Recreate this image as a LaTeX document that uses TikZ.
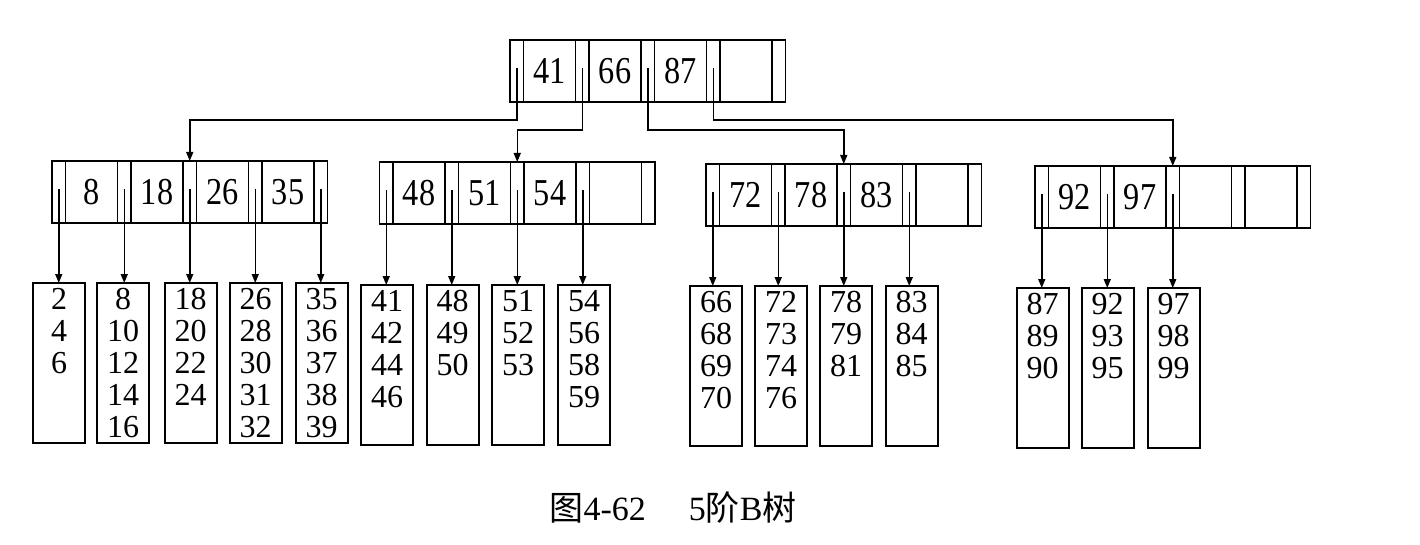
\documentclass[tikz,border=0pt]{standalone}
\usepackage{fontspec}
\setmainfont{Liberation Serif}
\newfontfamily\keyfont[FakeStretch=0.85]{Liberation Serif}
\newfontfamily\cjk{Noto Sans CJK SC}
\usetikzlibrary{arrows.meta}
\tikzset{
 pcell/.style={draw, line width=1.6pt, minimum width=13.5pt, minimum height=62pt, inner sep=0pt, outer sep=0pt, anchor=north west},
 kcell/.style={pcell, minimum width=52pt, font=\keyfont\fontsize{38}{38}\selectfont},
 leafbox/.style={draw, line width=2pt, minimum width=52pt, minimum height=160pt, inner sep=0pt, outer sep=0pt, anchor=north},
 leaftext/.style={anchor=north, align=center, inner sep=0pt, yshift=-5pt, font=\fontsize{32}{32}\selectfont},
 conn/.style={line width=1.5pt, -{Triangle[length=9pt,width=7pt]}},
}
\newcommand\BNode[7]{%
 \node[pcell] (#1-p0) at (#2,-#3) {};
 \node[kcell] (#1-k1) at (#2+13.5,-#3) {#4};
 \node[pcell] (#1-p1) at (#2+65.5,-#3) {};
 \node[kcell] (#1-k2) at (#2+79,-#3) {#5};
 \node[pcell] (#1-p2) at (#2+131,-#3) {};
 \node[kcell] (#1-k3) at (#2+144.5,-#3) {#6};
 \node[pcell] (#1-p3) at (#2+196.5,-#3) {};
 \node[kcell] (#1-k4) at (#2+210,-#3) {#7};
 \node[pcell] (#1-p4) at (#2+262,-#3) {};
 \coordinate (#1-m0) at ([yshift=3pt]#1-p0.center);
 \coordinate (#1-m1) at ([yshift=3pt]#1-p1.center);
 \coordinate (#1-m2) at ([yshift=3pt]#1-p2.center);
 \coordinate (#1-m3) at ([yshift=3pt]#1-p3.center);
 \coordinate (#1-m4) at ([yshift=3pt]#1-p4.center);
}
\newcommand\Leaf[4]{%
 \node[leafbox] (#1) at (#2,-#3) {};
 \node[leaftext] (#1-t) at (#1.north) {#4};
}
\begin{document}
\begin{tikzpicture}[x=1pt,y=1pt]
\useasboundingbox (0,0) rectangle (1420,-545);
% internal nodes
\BNode{r}{510}{40}{41}{66}{87}{}
\BNode{c1}{52}{161}{8}{18}{26}{35}
\BNode{c2}{379.5}{162}{48}{51}{54}{}
\BNode{c3}{706}{164}{72}{78}{83}{}
\BNode{c4}{1035}{166}{92}{97}{}{}
% leaves
\Leaf{l1}{59}{283}{2\\4\\6}
\Leaf{l2}{123}{283}{8\\10\\12\\14\\16}
\Leaf{l3}{190.5}{283}{18\\20\\22\\24}
\Leaf{l4}{255.5}{283}{26\\28\\30\\31\\32}
\Leaf{l5}{321.5}{283}{35\\36\\37\\38\\39}
\Leaf{l6}{387}{285}{41\\42\\44\\46}
\Leaf{l7}{452.5}{285}{48\\49\\50}
\Leaf{l8}{518}{285}{51\\52\\53}
\Leaf{l9}{584}{285}{54\\56\\58\\59}
\Leaf{l10}{716}{286}{66\\68\\69\\70}
\Leaf{l11}{781}{286}{72\\73\\74\\76}
\Leaf{l12}{846}{286}{78\\79\\81}
\Leaf{l13}{911.5}{286}{83\\84\\85}
\Leaf{l14}{1042.5}{288}{87\\89\\90}
\Leaf{l15}{1107.5}{288}{92\\93\\95}
\Leaf{l16}{1173.5}{288}{97\\98\\99}
% root connectors
\coordinate (ya) at (0,-120);
\coordinate (yb) at (0,-130);
\draw[conn] (r-m0) |- (c1-p2.north |- ya) -- (c1-p2.north);
\draw[conn] (r-m1) |- (c2-p2.north |- yb) -- (c2-p2.north);
\draw[conn] (r-m2) |- (c3-p2.north |- yb) -- (c3-p2.north);
\draw[conn] (r-m3) |- (c4-p2.north |- ya) -- (c4-p2.north);
% child connectors
\draw[conn] (c1-m0) -- (c1-m0 |- l1.north);
\draw[conn] (c1-m1) -- (c1-m1 |- l2.north);
\draw[conn] (c1-m2) -- (c1-m2 |- l3.north);
\draw[conn] (c1-m3) -- (c1-m3 |- l4.north);
\draw[conn] (c1-m4) -- (c1-m4 |- l5.north);
\draw[conn] (c2-m0) -- (c2-m0 |- l6.north);
\draw[conn] (c2-m1) -- (c2-m1 |- l7.north);
\draw[conn] (c2-m2) -- (c2-m2 |- l8.north);
\draw[conn] (c2-m3) -- (c2-m3 |- l9.north);
\draw[conn] (c3-m0) -- (c3-m0 |- l10.north);
\draw[conn] (c3-m1) -- (c3-m1 |- l11.north);
\draw[conn] (c3-m2) -- (c3-m2 |- l12.north);
\draw[conn] (c3-m3) -- (c3-m3 |- l13.north);
\draw[conn] (c4-m0) -- (c4-m0 |- l14.north);
\draw[conn] (c4-m1) -- (c4-m1 |- l15.north);
\draw[conn] (c4-m2) -- (c4-m2 |- l16.north);
% caption
\node[font=\fontsize{34}{34}\selectfont, inner sep=0pt] (cap) at (673,-508) {{\cjk 图}4-62\hspace{43pt}5{\cjk 阶}B{\cjk 树}};
\end{tikzpicture}
\end{document}
